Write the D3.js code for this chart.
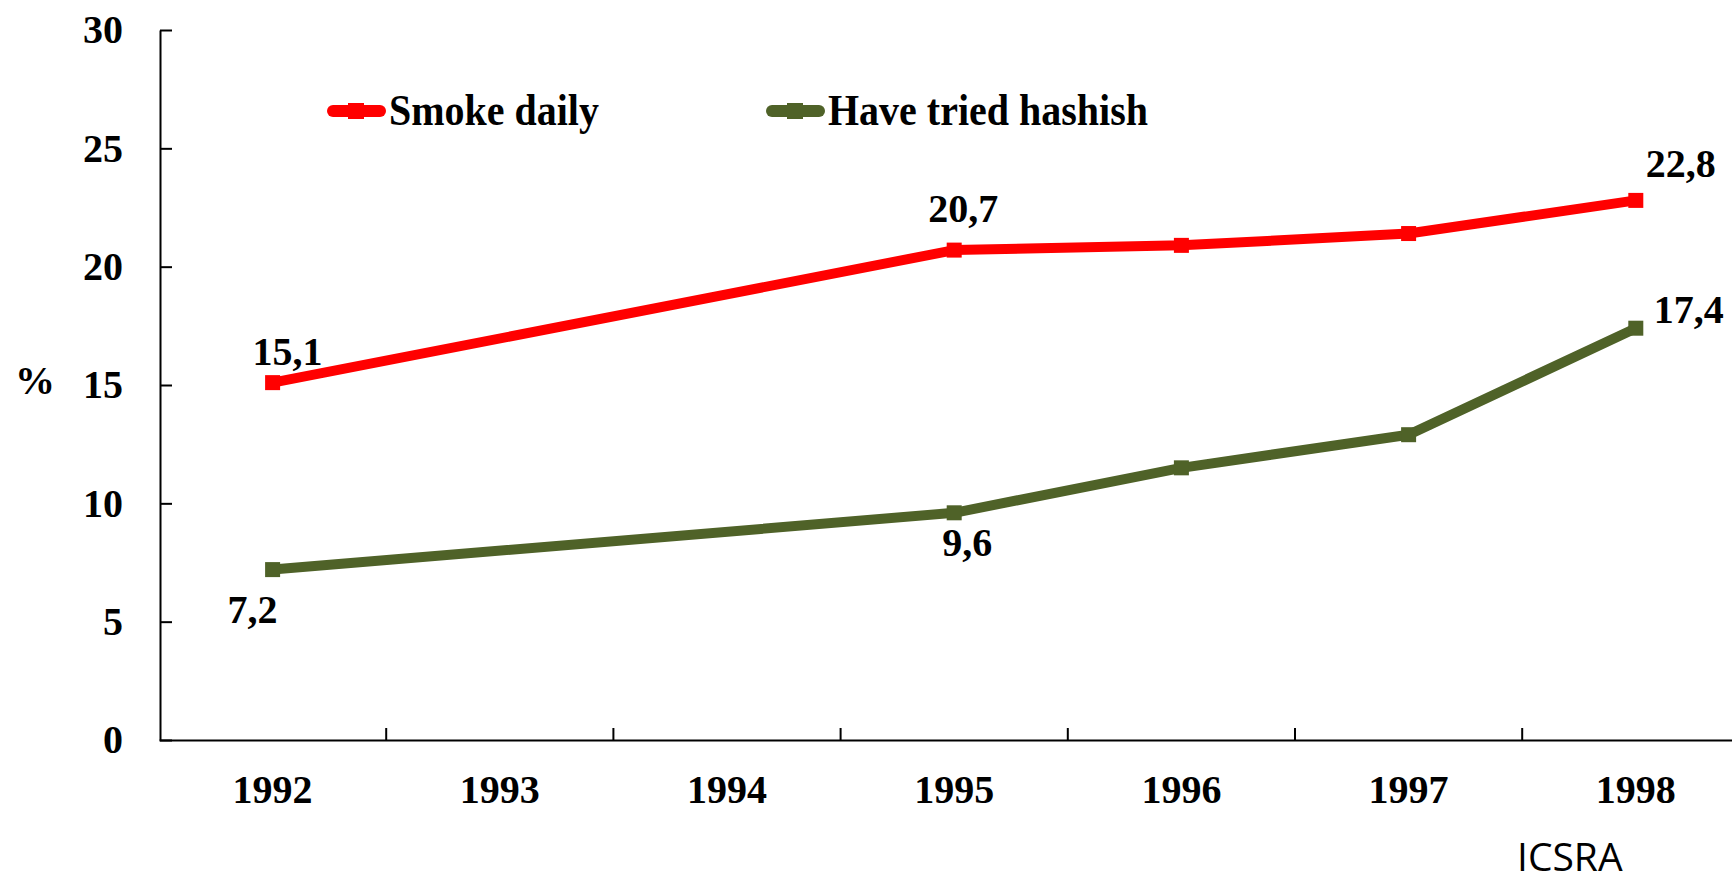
<!DOCTYPE html>
<html>
<head>
<meta charset="utf-8">
<script src="https://cdn.jsdelivr.net/npm/d3@7"></script>
<style>
  html, body { margin: 0; padding: 0; background: #fff; overflow: hidden; }
  svg { display: block; }
  text { font-family: "Liberation Serif", "Times New Roman", serif; font-weight: bold; fill: #000; }
</style>
</head>
<body>
<svg id="chart" width="1732" height="881"></svg>
<script>
// ---- data ----
const years = ["1992", "1993", "1994", "1995", "1996", "1997", "1998"];
const smokeDaily = [15.1, null, null, 20.7, 20.9, 21.4, 22.8];
const hashish = [7.2, null, null, 9.6, 11.5, 12.9, 17.4];
const seriesNames = ["Smoke daily", "Have tried hashish"];
const seriesColors = ["#FF0000", "#4F6228"];
const yTicks = [0, 5, 10, 15, 20, 25, 30];
const yLabel = "%";
const sourceNote = "ICSRA";

// ---- layout ----
const W = 1732, H = 881;
const svg = d3.select("#chart");
const x = d3.scaleBand().domain(years).range([159, 159 + 7 * 227.2]).padding(0);
const y = d3.scaleLinear().domain([0, 30]).range([740, 30]);
const cx = d => x(d) + x.bandwidth() / 2;

// y axis
const yAxis = svg.append("g").attr("transform", "translate(160,0)")
  .call(d3.axisLeft(y).tickValues(yTicks).tickSizeInner(-12).tickSizeOuter(0).tickPadding(37).tickFormat(d3.format("d")));
yAxis.select(".domain").attr("stroke", "#000").attr("stroke-width", 2);
yAxis.selectAll(".tick line").attr("stroke", "#000").attr("stroke-width", 2);
yAxis.selectAll(".tick text").attr("font-size", 40).attr("font-family", "Liberation Serif").attr("font-weight", "bold").attr("fill", "#000").attr("dy", "0.32em");

// x axis
const xAxis = svg.append("g").attr("transform", "translate(0,740)")
  .call(d3.axisBottom(x).tickSize(0).tickPadding(0));
xAxis.select(".domain").attr("stroke", "#000").attr("stroke-width", 2);
xAxis.selectAll(".tick text").attr("font-size", 40).attr("font-family", "Liberation Serif").attr("font-weight", "bold").attr("fill", "#000").attr("y", 63).attr("dy", 0);
// category boundary ticks (inward)
xAxis.selectAll(".bt").data(years.slice(1)).enter().append("line").attr("class", "bt")
  .attr("x1", d => x(d)).attr("x2", d => x(d)).attr("y1", 0).attr("y2", -12)
  .attr("stroke", "#000").attr("stroke-width", 2);

// y label
svg.append("text").attr("x", 35).attr("y", 394).attr("text-anchor", "middle").attr("font-size", 40).text(yLabel);

// series
const allSeries = [smokeDaily, hashish];
const line = d3.line().x(d => cx(d.year)).y(d => y(d.v));
allSeries.forEach((vals, i) => {
  const pts = years.map((yr, j) => ({ year: yr, v: vals[j] })).filter(d => d.v != null);
  svg.append("path").datum(pts).attr("d", line).attr("fill", "none")
    .attr("stroke", seriesColors[i]).attr("stroke-width", 10).attr("stroke-linejoin", "round");
  svg.selectAll(".m" + i).data(pts).enter().append("rect").attr("class", "m" + i)
    .attr("x", d => cx(d.year) - 7.5).attr("y", d => y(d.v) - 7.5)
    .attr("width", 15).attr("height", 15).attr("fill", seriesColors[i]);
});

// data labels (which points are labelled, with placement offsets)
const fmt = v => v.toFixed(1).replace(".", ",");
const labelSpecs = [
  { s: 0, i: 0, dx: 15, dy: -18 },
  { s: 0, i: 3, dx: 9, dy: -28 },
  { s: 0, i: 6, dx: 45, dy: -23 },
  { s: 1, i: 0, dx: -20, dy: 53 },
  { s: 1, i: 3, dx: 13, dy: 43 },
  { s: 1, i: 6, dx: 53, dy: -5 }
];
svg.selectAll(".dl").data(labelSpecs).enter().append("text").attr("class", "dl")
  .attr("x", d => cx(years[d.i]) + d.dx)
  .attr("y", d => y(allSeries[d.s][d.i]) + d.dy)
  .attr("text-anchor", "middle").attr("font-size", 40)
  .text(d => fmt(allSeries[d.s][d.i]));

// legend
const legendX = [327, 766];
seriesNames.forEach((name, i) => {
  const g = svg.append("g").attr("transform", `translate(${legendX[i]},111)`);
  g.append("line").attr("x1", 6).attr("x2", 53).attr("y1", 0).attr("y2", 0)
    .attr("stroke", seriesColors[i]).attr("stroke-width", 12).attr("stroke-linecap", "round");
  g.append("rect").attr("x", 21).attr("y", -8).attr("width", 16).attr("height", 16).attr("fill", seriesColors[i]);
  g.append("text").attr("transform", "translate(62,14) scale(1,1.12)").attr("font-size", 40).text(name);
});

// source note
svg.append("text").attr("x", 1517).attr("y", 871)
  .attr("font-size", 39).attr("fill", "#000").style("font-family", "'Open Sans', sans-serif").style("font-weight", "normal")
  .text(sourceNote);
</script>
</body>
</html>
